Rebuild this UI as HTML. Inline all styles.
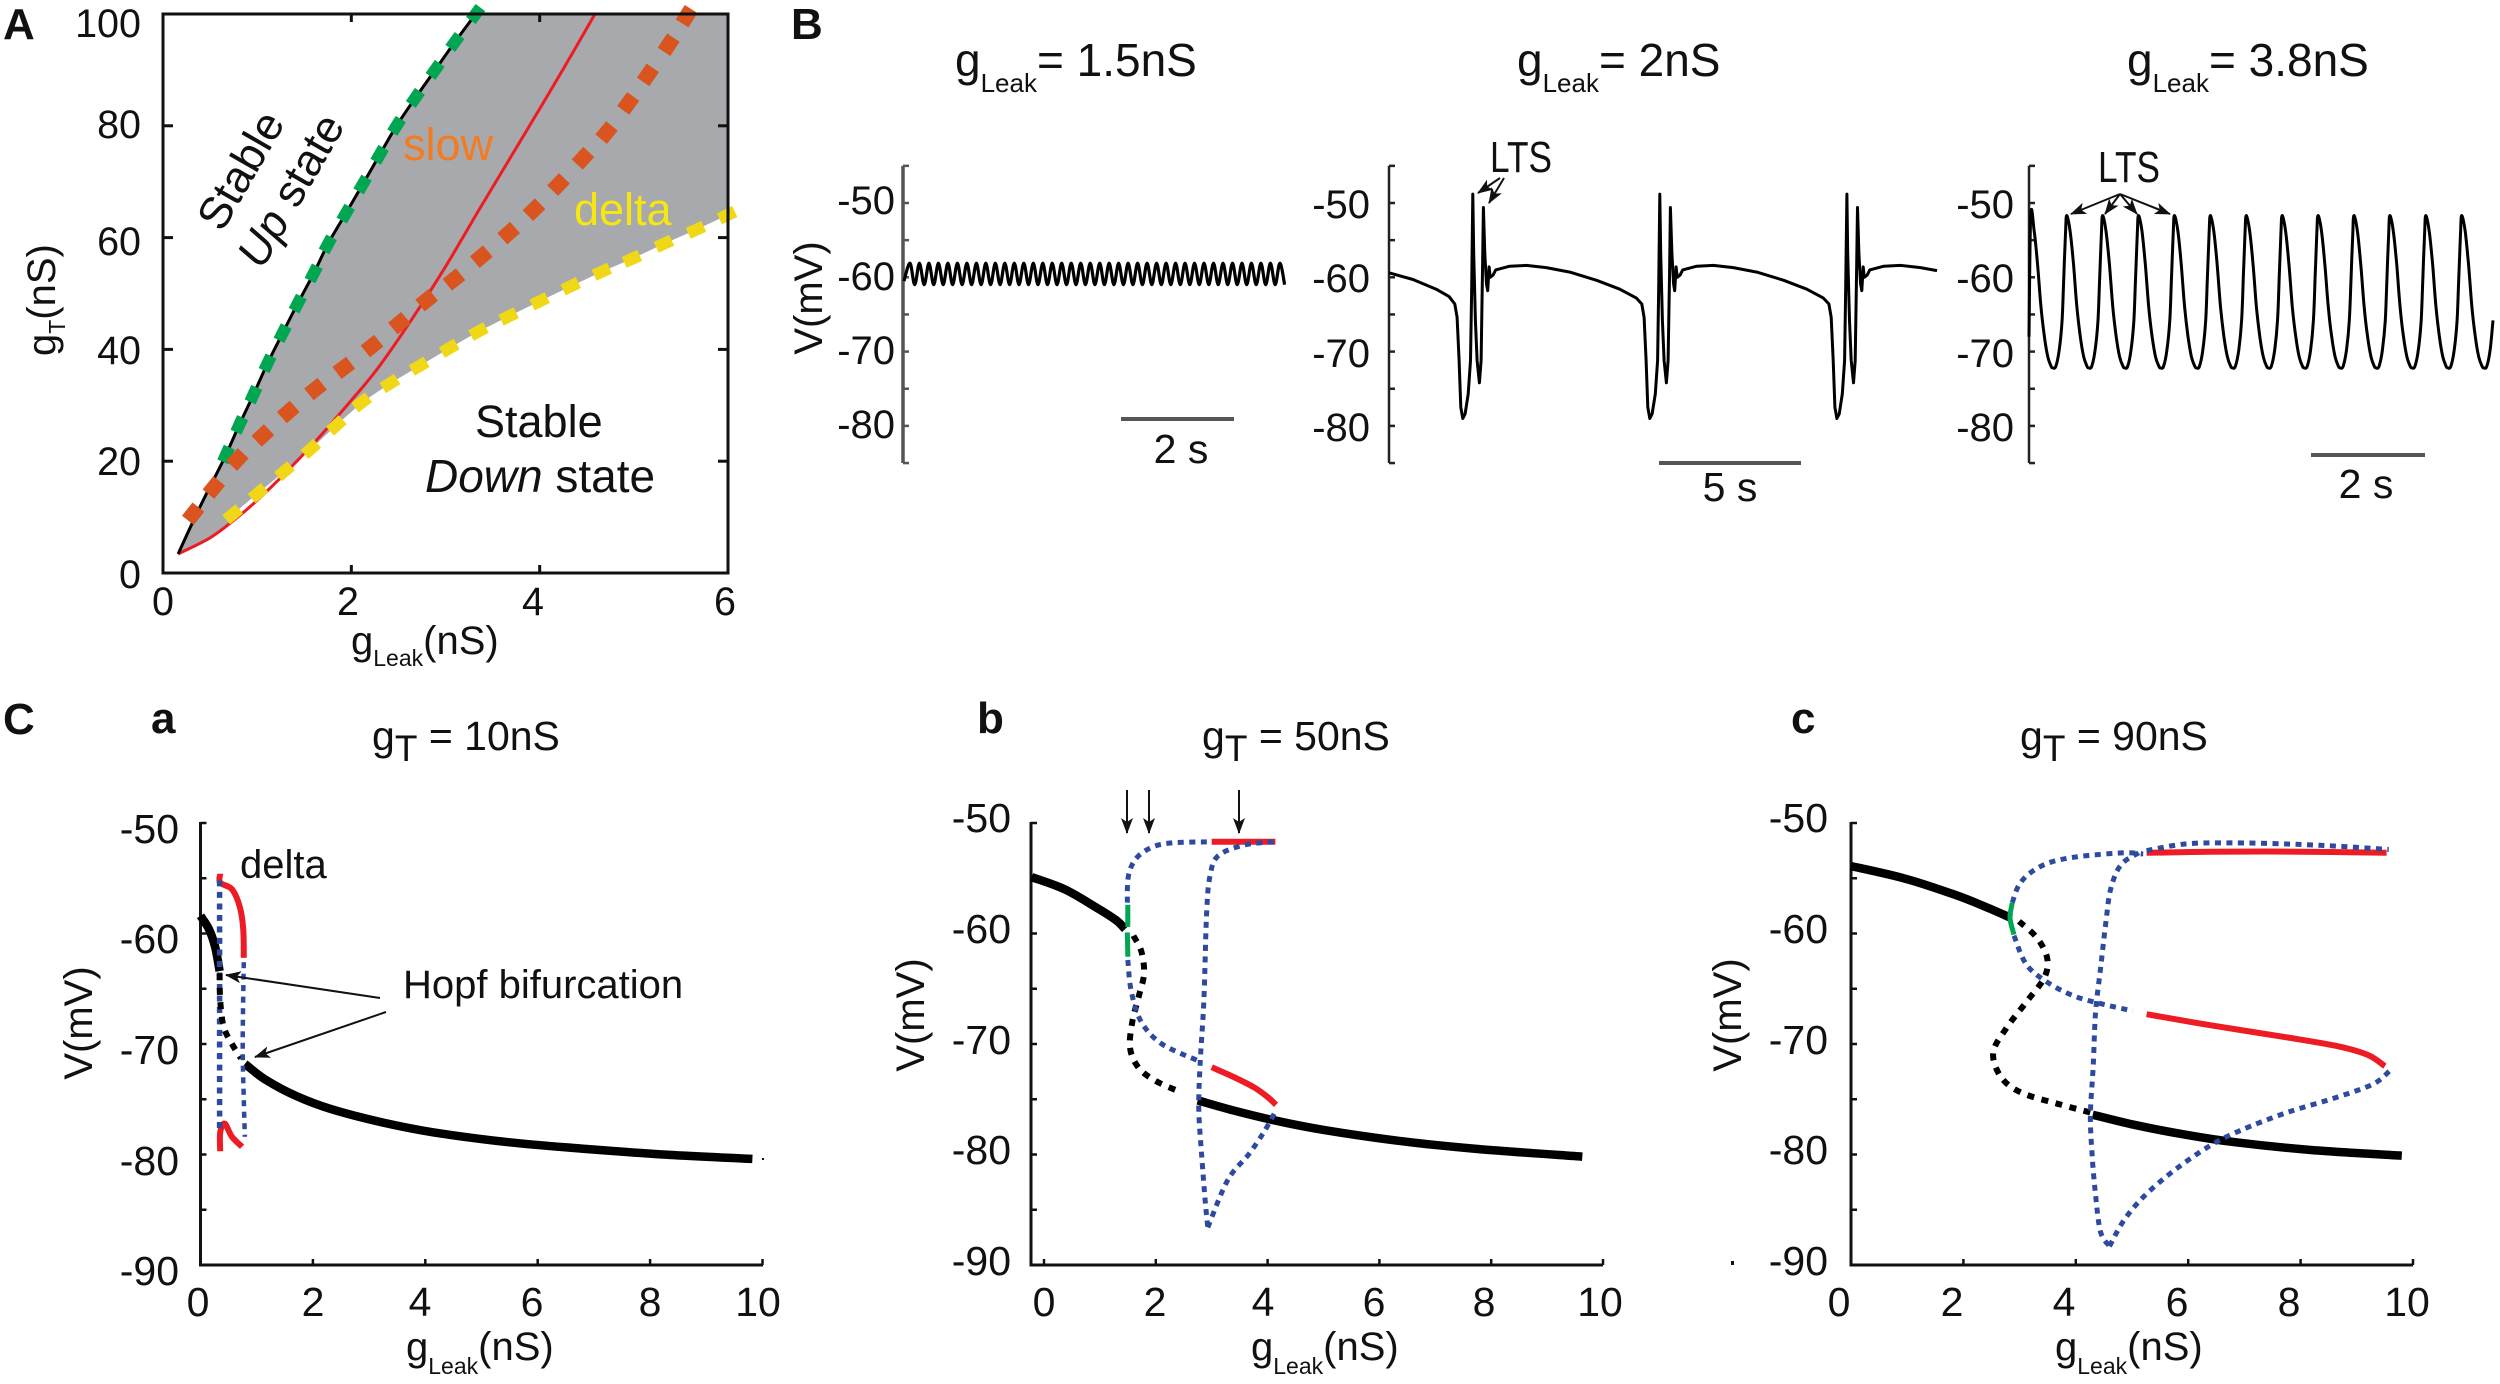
<!DOCTYPE html>
<html lang="en">
<head>
<meta charset="utf-8">
<title>Thalamic bifurcation figure</title>
<style>
html,body{margin:0;padding:0;background:#fff;}
svg{display:block;}
text{font-family:"Liberation Sans",sans-serif;fill:#111;}
.t37{font-size:39.5px;}
.t39{font-size:39px;}
.t41{font-size:41px;}
.t40{font-size:40px;}
.t45{font-size:45px;}
.sub{font-size:23px;}
.pl{font-size:44px;font-weight:bold;}
.mid{text-anchor:middle;}
.end{text-anchor:end;}
.arr{stroke:#111;stroke-width:2;fill:none;marker-end:url(#arrowhead);}
</style>
</head>
<body>
<svg id="chart" xmlns="http://www.w3.org/2000/svg" width="2500" height="1384" viewBox="0 0 2500 1384">
<defs>
<marker id="arrowhead" markerUnits="userSpaceOnUse" markerWidth="18" markerHeight="14" refX="15" refY="6" orient="auto">
<path d="M0,0 L16,6 L0,12 L4,6 Z" fill="#111"/>
</marker>
</defs>
<rect x="0" y="0" width="2500" height="1384" fill="#fff"/>

<!-- PANEL A -->
<g id="panelA"></g>
<rect x="163" y="14" width="565" height="559" fill="none" stroke="#111" stroke-width="3"/>
<text class="pl" x="3" y="39">A</text>
<g class="t37">
<text class="end" x="141" y="37">100</text>
<text class="end" x="141" y="138">80</text>
<text class="end" x="141" y="255">60</text>
<text class="end" x="141" y="364">40</text>
<text class="end" x="141" y="475">20</text>
<text class="end" x="141" y="588">0</text>
</g>
<g class="t37 mid">
<text x="163" y="615">0</text>
<text x="348" y="615">2</text>
<text x="533" y="615">4</text>
<text x="725" y="615">6</text>
</g>
<text class="t40" x="351" y="654">g<tspan class="sub" dy="12">Leak</tspan><tspan dy="-12">(nS)</tspan></text>
<text class="t40" transform="translate(55,356) rotate(-90)" x="0" y="0">g<tspan class="sub" dy="10">T</tspan><tspan dy="-10">(nS)</tspan></text>
<text class="t45 mid" transform="translate(240,170) rotate(-60)" x="0" y="16">Stable</text>
<text class="t45 mid" transform="translate(290,190) rotate(-60)" x="0" y="16"><tspan font-style="italic">Up</tspan> state</text>
<text class="t45" x="403" y="160" style="fill:#f47b20">slow</text>
<text class="t45" x="574" y="225" style="fill:#f6e612">delta</text>
<text class="t45" x="475" y="437">Stable</text>
<text x="425" y="492" font-size="46"><tspan font-style="italic">Down</tspan> state</text>

<!-- PANEL B -->
<text class="pl" x="791" y="39">B</text>
<g id="panelB"></g>
<text font-size="46" x="955" y="76">g<tspan font-size="26" dy="16">Leak</tspan><tspan dy="-16">= 1.5nS</tspan></text>
<text font-size="46" x="1517" y="76">g<tspan font-size="26" dy="16">Leak</tspan><tspan dy="-16">= 2nS</tspan></text>
<text font-size="46" x="2127" y="76">g<tspan font-size="26" dy="16">Leak</tspan><tspan dy="-16">= 3.8nS</tspan></text>
<text class="t40" transform="translate(822,298) rotate(-90)" text-anchor="middle" x="0" y="0">V(mV)</text>
<g class="t40 end">
<text x="895" y="214">-50</text>
<text x="895" y="290">-60</text>
<text x="895" y="364">-70</text>
<text x="895" y="438">-80</text>
</g>
<g class="t40 end">
<text x="1370" y="218">-50</text>
<text x="1370" y="292">-60</text>
<text x="1370" y="367">-70</text>
<text x="1370" y="441">-80</text>
</g>
<g class="t40 end">
<text x="2014" y="218">-50</text>
<text x="2014" y="292">-60</text>
<text x="2014" y="367">-70</text>
<text x="2014" y="441">-80</text>
</g>
<rect x="1121" y="417" width="113" height="4" fill="#555"/>
<text class="t41 mid" x="1181" y="463">2 s</text>
<rect x="1659" y="461" width="142" height="4" fill="#555"/>
<text class="t41 mid" x="1730" y="501">5 s</text>
<rect x="2311" y="453" width="114" height="4" fill="#555"/>
<text class="t41 mid" x="2366" y="498">2 s</text>
<text x="1490" y="172" font-size="44" textLength="62" lengthAdjust="spacingAndGlyphs">LTS</text>
<text x="2098" y="182" font-size="44" textLength="62" lengthAdjust="spacingAndGlyphs">LTS</text>
<g>
<line class="arr" x1="1500" y1="178" x2="1478" y2="193"/>
<line class="arr" x1="1504" y1="178" x2="1489" y2="203"/>
</g>
<g>
<line class="arr" x1="2120" y1="194" x2="2071" y2="214"/>
<line class="arr" x1="2120" y1="194" x2="2105" y2="214"/>
<line class="arr" x1="2120" y1="194" x2="2137" y2="214"/>
<line class="arr" x1="2120" y1="194" x2="2170" y2="214"/>
</g>

<!-- PANEL C -->
<text class="pl" x="3" y="734">C</text>
<text class="pl" x="151" y="733">a</text>
<text class="pl" x="977" y="733">b</text>
<text class="pl" x="1791" y="733">c</text>
<g id="panelC"></g>

<text class="t41" x="372" y="750">g<tspan font-size="37" dy="11">T</tspan><tspan dy="-11"> = 10nS</tspan></text>
<text class="t41" x="1202" y="750">g<tspan font-size="37" dy="11">T</tspan><tspan dy="-11"> = 50nS</tspan></text>
<text class="t41" x="2020" y="750">g<tspan font-size="37" dy="11">T</tspan><tspan dy="-11"> = 90nS</tspan></text>

<g class="t41 end">
<text x="179" y="843">-50</text>
<text x="179" y="953">-60</text>
<text x="179" y="1064">-70</text>
<text x="179" y="1175">-80</text>
<text x="179" y="1285">-90</text>
</g>
<g class="t41 mid">
<text x="198" y="1316">0</text>
<text x="313" y="1316">2</text>
<text x="420" y="1316">4</text>
<text x="532" y="1316">6</text>
<text x="650" y="1316">8</text>
<text x="758" y="1316">10</text>
</g>
<text class="t40" x="406" y="1360">g<tspan class="sub" dy="14">Leak</tspan><tspan dy="-14">(nS)</tspan></text>
<text class="t40 mid" transform="translate(92,1023) rotate(-90)" x="0" y="0">V(mV)</text>
<text class="t40" x="240" y="878">delta</text>
<text class="t40" x="403" y="998">Hopf bifurcation</text>
<line class="arr" x1="380" y1="998" x2="226" y2="975"/>
<line class="arr" x1="386" y1="1012" x2="255" y2="1057"/>
<rect x="762" y="1158" width="2" height="2" fill="#111"/>

<g class="t41 end">
<text x="1011" y="832">-50</text>
<text x="1011" y="943">-60</text>
<text x="1011" y="1054">-70</text>
<text x="1011" y="1164">-80</text>
<text x="1011" y="1275">-90</text>
</g>
<g class="t41 mid">
<text x="1044" y="1316">0</text>
<text x="1155" y="1316">2</text>
<text x="1263" y="1316">4</text>
<text x="1374" y="1316">6</text>
<text x="1484" y="1316">8</text>
<text x="1600" y="1316">10</text>
</g>
<text class="t40" x="1251" y="1360">g<tspan class="sub" dy="14">Leak</tspan><tspan dy="-14">(nS)</tspan></text>
<text class="t40 mid" transform="translate(924,1015) rotate(-90)" x="0" y="0">V(mV)</text>
<line class="arr" x1="1127" y1="790" x2="1127" y2="833"/>
<line class="arr" x1="1149" y1="790" x2="1149" y2="833"/>
<line class="arr" x1="1239" y1="790" x2="1239" y2="833"/>

<g class="t41 end">
<text x="1828" y="832">-50</text>
<text x="1828" y="943">-60</text>
<text x="1828" y="1054">-70</text>
<text x="1828" y="1164">-80</text>
<text x="1828" y="1275">-90</text>
</g>
<g class="t41 mid">
<text x="1839" y="1316">0</text>
<text x="1952" y="1316">2</text>
<text x="2064" y="1316">4</text>
<text x="2177" y="1316">6</text>
<text x="2289" y="1316">8</text>
<text x="2407" y="1316">10</text>
</g>
<text class="t40" x="2055" y="1360">g<tspan class="sub" dy="14">Leak</tspan><tspan dy="-14">(nS)</tspan></text>
<text class="t40 mid" transform="translate(1741,1015) rotate(-90)" x="0" y="0">V(mV)</text>
<rect x="1731" y="1261" width="3" height="4" fill="#111"/>
</svg>

<script>
/* ---------- Panel A data: [gLeak nS, gT nS] ---------- */
const aBlackBoundary = [[0.16,3.4],[0.38,11.4],[0.54,16.8],[0.67,21.2],[0.81,26.5],[0.96,31.9],[1.11,37.5],[1.27,42.9],[1.43,48.2],[1.60,53.6],[1.75,58.8],[1.94,64.3],[2.12,69.5],[2.30,74.8],[2.48,80],[2.68,85],[2.89,90],[3.10,95],[3.32,100]];
const aGreenSeries = [[0.67,21.2],[0.81,26.5],[0.96,31.9],[1.11,37.5],[1.27,42.9],[1.43,48.2],[1.60,53.6],[1.75,58.8],[1.94,64.3],[2.12,69.5],[2.30,74.8],[2.48,80],[2.68,85],[2.89,90],[3.10,95],[3.32,100]];
const aRedSeries = [[0.16,3.4],[0.5,6.3],[0.75,9.4],[1.0,13],[1.3,17.9],[1.6,23.2],[1.97,30.3],[2.28,36.6],[2.65,45.6],[3.0,54.8],[3.34,64.5],[3.66,73.5],[3.97,82.2],[4.28,91],[4.58,99.8]];
const aOrangeSeries = [[0.32,10.6],[0.54,15.3],[0.79,20.3],[1.06,24.6],[1.33,28.8],[1.62,32.9],[1.92,36.7],[2.22,40.6],[2.51,44.7],[2.80,48.8],[3.09,52.5],[3.38,56.6],[3.67,60.8],[3.94,65],[4.2,69.5],[4.46,74.2],[4.71,78.8],[4.94,84],[5.15,89.1],[5.37,94.5],[5.56,99.6]];
const aYellowSeries = [[0.74,10.5],[1.01,14.3],[1.29,18.2],[1.57,22.2],[1.84,26.4],[2.11,30.5],[2.41,33.9],[2.72,37],[3.04,40.2],[3.35,43.2],[3.67,45.9],[4.0,48.6],[4.33,51.3],[4.66,53.9],[4.98,56.2],[5.32,58.9],[5.66,61.4],[5.99,64]];
const aXTicks = [2,4];
const aYTicks = [20,40,60,80];

/* ---------- Panel B data ---------- */
const bTicks = [-45,-50,-55,-60,-65,-70,-75,-80,-85];
/* B1: alternating peak / trough voltages (mV) */
const b1FirstPeakS = 0.105;
const b1HalfPeriodS = 0.0835;
const b1Values = [-58.1,-61,-58.1,-61,-58.1,-61,-58.1,-61,-58.1,-61,-58.1,-61,-58.1,-61,-58.1,-61,-58.1,-61,-58.1,-61,-58.1,-61,-58.1,-61,-58.1,-61,-58.1,-61,-58.1,-61,-58.1,-61,-58.1,-61,-58.1,-61,-58.1,-61,-58.1,-61,-58.1,-61,-58.1,-61,-58.1,-61,-58.1,-61,-58.1,-61,-58.1,-61,-58.1,-61,-58.1,-61,-58.1,-61,-58.1,-61,-58.1,-61,-58.1,-61,-58.1,-61,-58.1,-61,-58.1,-61,-58.1,-61,-58.1,-61,-58.1,-61,-58.1,-61,-58.1,-61];
/* B2: lead-in, then one burst waveform repeated at the start times */
const b2LeadTime = [0,0.84,1.65,2.1];
const b2LeadV = [-59.4,-60.3,-61.6,-62.6];
const b2CycleStarts = [2.3,8.84,15.38];
const b2ShapeOffset = [0,0.08,0.15,0.21,0.28,0.36,0.47,0.55,0.59,0.63,0.66,0.72,0.78,0.86,0.92,0.97,1.0,1.05,1.11,1.15,1.2,1.24,1.34,1.43,1.92,2.5,3.2,4.02,4.96,5.77,6.35];
const b2ShapeV = [-63.6,-65.4,-71.2,-77.5,-79,-78.4,-75.7,-71.2,-61.3,-48.8,-56.8,-65.8,-71.2,-74.2,-71.2,-59.1,-50.6,-56.8,-60.9,-61.8,-58.6,-60,-59.7,-59,-58.5,-58.4,-58.7,-59.3,-60.4,-61.6,-62.8];
const b2EndS = 19.16;
const b2EndV = -59.1;
/* B3: one oscillation cycle measured from each peak */
const b3PeakTimes = [0.03,0.66,1.29,1.92,2.55,3.18,3.81,4.44,5.07,5.70,6.33,6.96,7.59];
const b3ShapeOffset = [0,0.06,0.12,0.18,0.24,0.3,0.36,0.39,0.44,0.5,0.55,0.58,0.61];
const b3ShapeV = [-51.7,-53.7,-58.2,-64,-68,-70.7,-72,-72.2,-72,-69.8,-65.8,-60,-54.1];
const b3StartV = -68;
const b3EndS = 8.14;

/* ---------- Panel C data: [gLeak nS, V mV] ---------- */
const cYTicks = [-50,-55,-60,-65,-70,-75,-80,-85,-90];
const cXTicks = [0,2,4,6,8,10];

const caBlackUpper = [[0,-58.4],[0.15,-59.6],[0.26,-61.2],[0.34,-63.4]];
const caBlackDotted = [[0.34,-63.6],[0.35,-66],[0.41,-68.4],[0.56,-70],[0.72,-71.3]];
const caBlackLower = [[0.79,-71.8],[1.15,-73.2],[1.7,-74.7],[2.33,-75.9],[3.24,-77.1],[4.15,-78],[5.5,-78.9],[6.87,-79.5],[8.23,-80],[9.82,-80.4]];
const caRedUpper = [[0.35,-54.6],[0.35,-55.4],[0.56,-56],[0.7,-57.6],[0.76,-59.6],[0.77,-62.2]];
const caRedLower = [[0.35,-79.7],[0.35,-78],[0.43,-77.2],[0.56,-78.4],[0.74,-79.3]];
const caBlueLeft = [[0.34,-55.2],[0.34,-66],[0.34,-78]];
const caBlueRight = [[0.77,-62.6],[0.75,-70],[0.77,-75],[0.79,-78.4]];

const cbBlackUpper = [[-0.22,-54.9],[0.37,-56],[0.92,-57.6],[1.29,-58.8],[1.45,-59.6]];
const cbBlackDotted = [[1.6,-60.2],[1.74,-61.6],[1.79,-63.6],[1.7,-65.6],[1.58,-68],[1.54,-70.4],[1.7,-72.2],[2.02,-73.4],[2.47,-74.4]];
const cbBlackLower = [[2.75,-75.1],[3.38,-76],[4.11,-76.9],[5.03,-77.8],[6.4,-78.8],[7.76,-79.5],[9.63,-80.2]];
const cbGreenUpper = [[1.5,-57.4],[1.5,-59.4]];
const cbGreenLower = [[1.49,-59.9],[1.5,-62.1]];
const cbBlueTop = [[1.49,-57.2],[1.51,-54.8],[1.65,-53.2],[1.93,-52.2],[2.29,-51.8],[2.97,-51.7]];
const cbBlueMid = [[1.5,-62.4],[1.56,-65.2],[1.74,-68],[2.11,-70],[2.75,-71.5]];
const cbBlueLoop = [[4.11,-51.7],[3.57,-52],[3.11,-53],[2.97,-54.8],[2.91,-58],[2.86,-66],[2.79,-72],[2.77,-76],[2.82,-80],[2.88,-84],[2.93,-86.6]];
const cbBlueReturn = [[2.93,-86.6],[3.2,-83.2],[3.38,-81.6],[3.66,-80],[3.93,-78],[4.13,-76.2]];
const cbRedTop = [[3.0,-51.7],[4.14,-51.7]];
const cbRedLower = [[3,-72.1],[3.4,-73],[3.75,-73.9],[4.0,-74.8],[4.15,-75.5]];

const ccBlackUpper = [[0,-53.9],[0.94,-55],[1.85,-56.5],[2.4,-57.6],[2.85,-58.6]];
const ccBlackDotted = [[2.99,-58.9],[3.31,-60.4],[3.49,-62.2],[3.44,-64],[3.12,-66.2],[2.76,-68.6],[2.53,-70.8],[2.67,-73],[3.03,-74.4],[3.67,-75.4],[4.26,-76.2]];
const ccBlackLower = [[4.3,-76.4],[5.03,-77.3],[5.94,-78.2],[6.85,-78.9],[8.21,-79.6],[9.8,-80.1]];
const ccGreen = [[2.87,-57.2],[2.83,-58.6],[2.9,-60.1]];
const ccBlueInner = [[2.87,-57.2],[2.99,-55.6],[3.22,-54.4],[3.58,-53.5],[4.12,-53],[4.85,-52.7],[5.2,-52.8]];
const ccBlueOuter = [[5.26,-52.5],[5.94,-51.9],[6.76,-51.8],[7.76,-51.9],[8.66,-52.1],[9.57,-52.4]];
const ccBlueLoop = [[5.12,-52.7],[4.8,-53.8],[4.62,-56],[4.53,-59.2],[4.44,-63.2],[4.35,-67.2],[4.31,-72],[4.26,-76.4],[4.29,-80],[4.35,-83.6],[4.44,-87],[4.6,-88.3]];
const ccBlueReturn = [[4.6,-88.3],[4.85,-86],[5.21,-83.8],[5.76,-81.4],[6.39,-79.2],[6.94,-77.8],[7.76,-76.2],[8.66,-74.8],[9.3,-73.6],[9.59,-72.4]];
const ccBlueMid = [[2.9,-60.2],[3.12,-62.8],[3.49,-64.4],[3.94,-65.6],[4.4,-66.3],[5.01,-67]];
const ccRedTop = [[5.26,-52.7],[6.39,-52.6],[8,-52.6],[9.53,-52.7]];
const ccRedLower = [[5.26,-67.3],[6.39,-68.3],[7.76,-69.4],[8.66,-70.2],[9.2,-71],[9.5,-72]];

/* ---------- Axis functions ---------- */
const aX = v => 163 + v * 94.17;
const aY = v => 573 - v * 5.59;
const bY = v => 203 + (-50 - v) * 7.43;
const b1X = t => 904 + t * 56.8;
const b2X = t => 1389 + t * 28.6;
const b3X = t => 2029 + t * 57;
const cY = v => 823 + (-50 - v) * 11.05;
const caX = v => 200.5 + v * 56.2;
const cbX = v => 1044 + v * 55.9;
const ccX = v => 1851 + v * 56.2;

const NS = 'http://www.w3.org/2000/svg';
const groupA = document.getElementById('panelA');
const groupB = document.getElementById('panelB');
const groupC = document.getElementById('panelC');

function smoothD(pts) {
  let d = 'M' + pts[0][0].toFixed(1) + ',' + pts[0][1].toFixed(1);
  for (let i = 0; i < pts.length - 1; i++) {
    const p0 = pts[Math.max(i - 1, 0)], p1 = pts[i], p2 = pts[i + 1], p3 = pts[Math.min(i + 2, pts.length - 1)];
    const c1x = p1[0] + (p2[0] - p0[0]) / 6, c1y = p1[1] + (p2[1] - p0[1]) / 6;
    const c2x = p2[0] - (p3[0] - p1[0]) / 6, c2y = p2[1] - (p3[1] - p1[1]) / 6;
    d += 'C' + c1x.toFixed(1) + ',' + c1y.toFixed(1) + ' ' + c2x.toFixed(1) + ',' + c2y.toFixed(1) + ' ' + p2[0].toFixed(1) + ',' + p2[1].toFixed(1);
  }
  return d;
}
function polyD(pts) {
  return 'M' + pts.map(p => p[0].toFixed(1) + ',' + p[1].toFixed(1)).join('L');
}
/* One short dash centred on every data point, aligned with the local tangent */
function dashesD(pts, len) {
  let d = '';
  pts.forEach((p, i) => {
    const a = pts[Math.max(i - 1, 0)], b = pts[Math.min(i + 1, pts.length - 1)];
    const dx = b[0] - a[0], dy = b[1] - a[1], m = Math.hypot(dx, dy) || 1;
    const ux = dx / m * len / 2, uy = dy / m * len / 2;
    d += 'M' + (p[0] - ux).toFixed(1) + ',' + (p[1] - uy).toFixed(1) + 'L' + (p[0] + ux).toFixed(1) + ',' + (p[1] + uy).toFixed(1);
  });
  return d;
}
function mapSeries(series, fx, fy) {
  return series.map(p => [fx(p[0]), fy(p[1])]);
}
function curve(parent, d, color, width, dash) {
  const el = document.createElementNS(NS, 'path');
  el.setAttribute('d', d);
  el.setAttribute('fill', 'none');
  el.setAttribute('stroke', color);
  el.setAttribute('stroke-width', width);
  el.setAttribute('stroke-linejoin', 'round');
  if (dash) el.setAttribute('stroke-dasharray', dash);
  parent.appendChild(el);
  return el;
}
function seg(parent, x1, y1, x2, y2, color, width) {
  const el = document.createElementNS(NS, 'line');
  el.setAttribute('x1', x1);
  el.setAttribute('y1', y1);
  el.setAttribute('x2', x2);
  el.setAttribute('y2', y2);
  el.setAttribute('stroke', color);
  el.setAttribute('stroke-width', width);
  parent.appendChild(el);
  return el;
}

/* ---------- Draw panel A ---------- */
const GRAY = '#a7a9ac', RED = '#ed1c24', BLACK = '#000', BLUE = '#2e4a9e', GREEN = '#00a651';
const aFillPts = mapSeries(aBlackBoundary, aX, aY)
  .concat([[aX(3.36), aY(100)], [aX(6), aY(100)]])
  .concat(mapSeries(aYellowSeries.slice().reverse(), aX, aY))
  .concat(mapSeries(aRedSeries.filter(p => p[1] < aYellowSeries[0][1]).reverse(), aX, aY));
const aFill = document.createElementNS(NS, 'path');
aFill.setAttribute('d', polyD(aFillPts) + 'Z');
aFill.setAttribute('fill', GRAY);


groupA.appendChild(aFill);

const aRedLine = curve(groupA, smoothD(mapSeries(aRedSeries, aX, aY)), RED, 3);


const aBlackLine = curve(groupA, smoothD(mapSeries(aBlackBoundary, aX, aY)), BLACK, 3);


const aGreenLine = curve(groupA, dashesD(mapSeries(aGreenSeries, aX, aY), 16), GREEN, 12);


const aOrangeLine = curve(groupA, dashesD(mapSeries(aOrangeSeries, aX, aY), 17), '#d9541e', 15);


const aYellowLine = curve(groupA, dashesD(mapSeries(aYellowSeries, aX, aY), 17), '#f0d816', 12);



aXTicks.forEach(v => {
  const bottomTick = seg(groupA, aX(v), 573, aX(v), 565, '#111', 3);
  
  
  const topTick = seg(groupA, aX(v), 14, aX(v), 22, '#111', 3);
  
  
});
aYTicks.forEach(v => {
  const leftTick = seg(groupA, 163, aY(v), 173, aY(v), '#111', 3);
  
  
  const rightTick = seg(groupA, 728, aY(v), 718, aY(v), '#111', 3);
  
  
});

/* ---------- Draw panel B ---------- */
function voltageAxis(axisX, color, width) {
  const axis = seg(groupB, axisX, bY(-45), axisX, bY(-85), color, width);
  
  
  bTicks.forEach(v => {
    const tick = seg(groupB, axisX, bY(v), axisX + 6, bY(v), color, 2.5);
    
    
  });
}
voltageAxis(903, '#555', 3.5);
voltageAxis(1389, '#222', 2.5);
voltageAxis(2029, '#222', 2.5);

const b1Pts = [[b1X(0), bY(-60.5)]].concat(b1Values.map((v, i) => [b1X(b1FirstPeakS + i * b1HalfPeriodS), bY(v)]));
const b1Line = curve(groupB, smoothD(b1Pts), BLACK, 3.2);



const b2Pts = b2LeadTime.map((t, i) => [b2X(t), bY(b2LeadV[i])]);
b2CycleStarts.forEach(start => {
  b2ShapeOffset.forEach((o, i) => {
    if (start + o <= b2EndS) b2Pts.push([b2X(start + o), bY(b2ShapeV[i])]);
  });
});
b2Pts.push([b2X(b2EndS), bY(b2EndV)]);
const b2Line = curve(groupB, polyD(b2Pts), BLACK, 3);



const b3Pts = [[b3X(0), bY(b3StartV)]];
b3PeakTimes.forEach(start => {
  b3ShapeOffset.forEach((o, i) => {
    if (start + o <= b3EndS) b3Pts.push([b3X(start + o), bY(b3ShapeV[i])]);
  });
});
const b3Line = curve(groupB, smoothD(b3Pts), BLACK, 3);



/* ---------- Draw panel C ---------- */
function bifAxes(xf, left, right, xTicks) {
  const yAxis = seg(groupC, left, cY(-50) - 1, left, cY(-90) + 1.5, '#111', 3);
  
  
  const xAxis = seg(groupC, left, cY(-90), right, cY(-90), '#111', 3);
  
  
  cYTicks.forEach(v => {
    const t = seg(groupC, left, cY(v), left + 6, cY(v), '#111', 2.5);
    
    
  });
  xTicks.forEach(v => {
    const t = seg(groupC, xf(v), cY(-90), xf(v), cY(-90) - 6, '#111', 2.5);
    
    
  });
}
function bifCurve(series, xf, color, width, dash, name) {
  const el = curve(groupC, smoothD(mapSeries(series, xf, cY)), color, width, dash);
  
  
  return el;
}
const DOT_BLUE = '6 5.5';
const DOT_BLACK = '7 7.5';
const BLUE_W = 5;
const BLACK_W = 8.5;
const RED_W = 6;

bifAxes(caX, 200.5, 763, cXTicks);
bifCurve(caBlackUpper, caX, BLACK, BLACK_W, null, 'ca-stable-upper');
bifCurve(caBlackLower, caX, BLACK, BLACK_W, null, 'ca-stable-lower');
bifCurve(caRedUpper, caX, RED, RED_W, null, 'ca-cycle-max');
bifCurve(caRedLower, caX, RED, RED_W, null, 'ca-cycle-min');
bifCurve(caBlueLeft, caX, BLUE, 5.5, DOT_BLUE, 'ca-unstable-cycle-left');
bifCurve(caBlackDotted, caX, BLACK, 6, DOT_BLACK, 'ca-unstable');
bifCurve(caBlueRight, caX, BLUE, 4.5, DOT_BLUE, 'ca-unstable-cycle-right');

bifAxes(cbX, 1031, 1603, cXTicks);
bifCurve(cbBlackUpper, cbX, BLACK, BLACK_W, null, 'cb-stable-upper');
bifCurve(cbBlackLower, cbX, BLACK, BLACK_W, null, 'cb-stable-lower');
bifCurve(cbBlackDotted, cbX, BLACK, 6, DOT_BLACK, 'cb-unstable');
bifCurve(cbRedTop, cbX, RED, RED_W, null, 'cb-cycle-max');
bifCurve(cbRedLower, cbX, RED, RED_W, null, 'cb-cycle-min');
bifCurve(cbBlueTop, cbX, BLUE, BLUE_W, DOT_BLUE, 'cb-unstable-top');
bifCurve(cbBlueMid, cbX, BLUE, BLUE_W, DOT_BLUE, 'cb-unstable-mid');
bifCurve(cbBlueLoop, cbX, BLUE, BLUE_W, DOT_BLUE, 'cb-unstable-loop');
bifCurve(cbBlueReturn, cbX, BLUE, BLUE_W, DOT_BLUE, 'cb-unstable-return');
bifCurve(cbGreenUpper, cbX, GREEN, 5, null, 'cb-green-upper');
bifCurve(cbGreenLower, cbX, GREEN, 5, null, 'cb-green-lower');

bifAxes(ccX, 1851, 2413, cXTicks);
bifCurve(ccBlackUpper, ccX, BLACK, BLACK_W, null, 'cc-stable-upper');
bifCurve(ccBlackLower, ccX, BLACK, BLACK_W, null, 'cc-stable-lower');
bifCurve(ccBlackDotted, ccX, BLACK, 6, DOT_BLACK, 'cc-unstable');
bifCurve(ccRedTop, ccX, RED, RED_W, null, 'cc-cycle-max');
bifCurve(ccRedLower, ccX, RED, RED_W, null, 'cc-cycle-min');
bifCurve(ccBlueInner, ccX, BLUE, BLUE_W, DOT_BLUE, 'cc-unstable-inner');
bifCurve(ccBlueOuter, ccX, BLUE, BLUE_W, DOT_BLUE, 'cc-unstable-outer');
bifCurve(ccBlueMid, ccX, BLUE, BLUE_W, DOT_BLUE, 'cc-unstable-mid');
bifCurve(ccBlueLoop, ccX, BLUE, BLUE_W, DOT_BLUE, 'cc-unstable-loop');
bifCurve(ccBlueReturn, ccX, BLUE, BLUE_W, DOT_BLUE, 'cc-unstable-return');
bifCurve(ccGreen, ccX, GREEN, 5, null, 'cc-green');
</script>
</body>
</html>
